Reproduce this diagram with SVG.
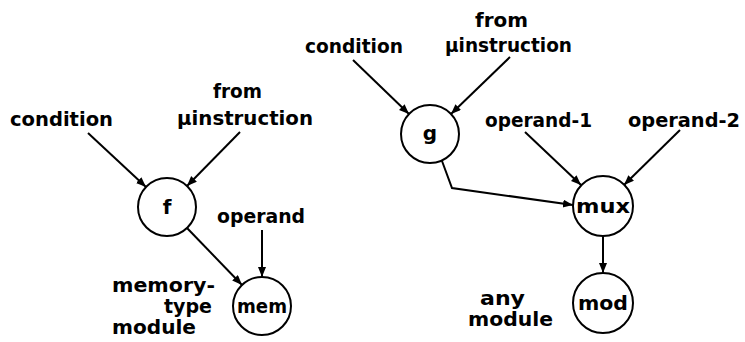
<svg xmlns="http://www.w3.org/2000/svg" width="745" height="342" viewBox="0 0 745 342">
<defs>
<marker id="ah" markerUnits="userSpaceOnUse" markerWidth="12" markerHeight="10" refX="10" refY="4" orient="auto">
<path d="M0,0 L10,4 L0,8 Z" fill="#000"/>
</marker>
<style>
.t{font-family:"DejaVu Sans","Liberation Sans",Arial,sans-serif;font-size:19px;font-weight:bold;fill:#000}
.n{font-size:20px}
.c{fill:#fff;stroke:#000;stroke-width:2}
.e{fill:none;stroke:#000;stroke-width:2;marker-end:url(#ah)}
</style>
</defs>
<rect width="745" height="342" fill="#fff"/>
<g id="labels">
<text class="t" x="10" y="126" textLength="103" lengthAdjust="spacingAndGlyphs">condition</text>
<text class="t" x="213" y="98" textLength="49" lengthAdjust="spacingAndGlyphs">from</text>
<text class="t" x="177" y="125" textLength="136" lengthAdjust="spacingAndGlyphs">µinstruction</text>
<text class="t" x="217" y="223" textLength="88" lengthAdjust="spacingAndGlyphs">operand</text>
<text class="t" x="112" y="292" textLength="103" lengthAdjust="spacingAndGlyphs">memory-</text>
<text class="t" x="164" y="313" textLength="48" lengthAdjust="spacingAndGlyphs">type</text>
<text class="t" x="112" y="334" textLength="84" lengthAdjust="spacingAndGlyphs">module</text>
<text class="t" x="305" y="53" textLength="98" lengthAdjust="spacingAndGlyphs">condition</text>
<text class="t" x="475" y="27" textLength="53" lengthAdjust="spacingAndGlyphs">from</text>
<text class="t" x="445" y="52" textLength="127" lengthAdjust="spacingAndGlyphs">µinstruction</text>
<text class="t" x="485" y="127" textLength="107" lengthAdjust="spacingAndGlyphs">operand-1</text>
<text class="t" x="628" y="127" textLength="112" lengthAdjust="spacingAndGlyphs">operand-2</text>
<text class="t" x="480" y="305" textLength="45" lengthAdjust="spacingAndGlyphs">any</text>
<text class="t" x="468" y="326" textLength="85" lengthAdjust="spacingAndGlyphs">module</text>
</g>
<g id="connectors">
<line class="e" x1="88" y1="133" x2="146" y2="187"/>
<line class="e" x1="240" y1="132" x2="187" y2="186"/>
<line class="e" x1="187" y1="228" x2="242" y2="285"/>
<line class="e" x1="262" y1="230" x2="262" y2="277"/>
<line class="e" x1="353" y1="60" x2="409" y2="114"/>
<line class="e" x1="510" y1="57" x2="451" y2="114"/>
<polyline class="e" points="442,161 452,188 573,205"/>
<line class="e" x1="525" y1="132" x2="581" y2="185"/>
<line class="e" x1="680" y1="130" x2="624" y2="185"/>
<line class="e" x1="603" y1="236" x2="603" y2="273"/>
</g>
<g id="node-f"><circle class="c" cx="167" cy="207" r="29"/><text class="t n" x="167" y="214" text-anchor="middle">f</text></g>
<g id="node-mem"><circle class="c" cx="262" cy="306" r="29"/><text class="t n" x="262" y="313" text-anchor="middle" textLength="50" lengthAdjust="spacingAndGlyphs">mem</text></g>
<g id="node-g"><circle class="c" cx="430" cy="134" r="29"/><text class="t n" x="430" y="140" text-anchor="middle">g</text></g>
<g id="node-mux"><circle class="c" cx="603" cy="206" r="30"/><text class="t n" x="603" y="213" text-anchor="middle" textLength="54" lengthAdjust="spacingAndGlyphs">mux</text></g>
<g id="node-mod"><circle class="c" cx="603" cy="303" r="30"/><text class="t n" x="603" y="310" text-anchor="middle" textLength="50" lengthAdjust="spacingAndGlyphs">mod</text></g>
</svg>
